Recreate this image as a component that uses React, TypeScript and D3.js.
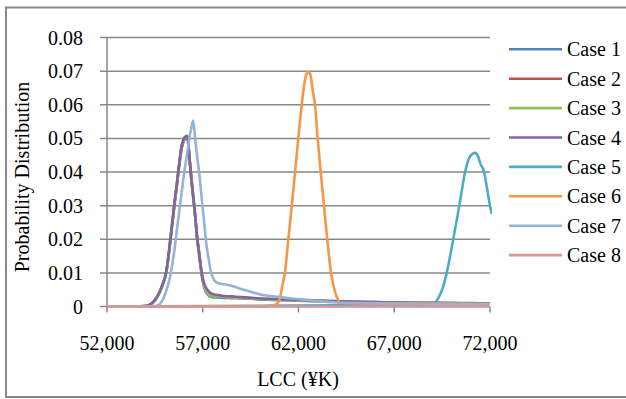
import React from "react";
import * as d3 from "d3";

// ---- data ----
const xMain = [
  52000, 53500, 54000, 54300, 54600, 54900, 55100, 55300, 55500, 55700, 55900,
  56100, 56200, 56300, 56400, 56500, 56600, 56700, 56800, 56900, 57000, 57100,
  57200, 57300, 57400, 57600, 57800, 58000, 58500, 59000, 59500, 60000, 61000,
  62000, 63000, 64000, 65000, 66000, 67000, 68000, 69000, 70000, 71000, 72000,
];
const case1 = [
  0, 0, 0.0001, 0.0006, 0.0025, 0.0062, 0.0102, 0.019, 0.029, 0.0385, 0.047,
  0.05, 0.0502, 0.0445, 0.038, 0.0325, 0.027, 0.0205, 0.016, 0.0112, 0.0075, 0.0052,
  0.004, 0.0033, 0.0029, 0.0027, 0.0027, 0.0026, 0.0025, 0.0024, 0.0023, 0.0021, 0.0019,
  0.0017, 0.0015, 0.0014, 0.0013, 0.0012, 0.0011, 0.001, 0.001, 0.0009, 0.0009, 0.0008,
];
const case2 = [
  0, 0, 0.0001, 0.0007, 0.0027, 0.0064, 0.0105, 0.0195, 0.0295, 0.039, 0.048,
  0.0505, 0.0503, 0.0448, 0.0384, 0.0328, 0.0272, 0.0208, 0.0163, 0.0116, 0.008, 0.0058,
  0.0046, 0.0039, 0.0035, 0.0032, 0.0031, 0.003, 0.0028, 0.0026, 0.0025, 0.0023, 0.0021,
  0.0019, 0.0017, 0.0015, 0.0014, 0.0013, 0.0012, 0.0011, 0.001, 0.001, 0.0009, 0.0009,
];
const case3 = [
  0, 0, 0.0001, 0.0006, 0.0026, 0.0063, 0.0103, 0.0192, 0.0292, 0.0387, 0.0472,
  0.0502, 0.0504, 0.0447, 0.0382, 0.0327, 0.0272, 0.0207, 0.0162, 0.0115, 0.0078, 0.0056,
  0.0044, 0.0036, 0.0032, 0.003, 0.003, 0.0029, 0.0027, 0.0025, 0.0024, 0.0022, 0.002,
  0.0018, 0.0016, 0.0015, 0.0013, 0.0012, 0.0011, 0.0011, 0.001, 0.001, 0.0009, 0.0008,
];
const case4 = [
  0, 0, 0.0001, 0.0008, 0.0028, 0.0066, 0.0106, 0.0196, 0.0296, 0.039, 0.0475,
  0.0505, 0.0508, 0.0445, 0.0385, 0.033, 0.0275, 0.021, 0.0165, 0.012, 0.0085, 0.0065,
  0.0053, 0.0046, 0.004, 0.0036, 0.0034, 0.0032, 0.003, 0.0028, 0.0026, 0.0024, 0.0022,
  0.002, 0.0018, 0.0016, 0.0014, 0.0013, 0.0012, 0.0011, 0.0011, 0.001, 0.001, 0.0009,
];
const case7 = [
  0, 0, 0, 0, 0.0002, 0.0018, 0.0048, 0.009, 0.016, 0.025, 0.034,
  0.0425, 0.046, 0.05, 0.053, 0.0553, 0.05, 0.045, 0.0405, 0.035, 0.029, 0.0235,
  0.018, 0.0145, 0.011, 0.0078, 0.0069, 0.0067, 0.0062, 0.0052, 0.0044, 0.0036, 0.0028,
  0.0022, 0.0016, 0.0012, 0.001, 0.0009, 0.0008, 0.0008, 0.0007, 0.0007, 0.0007, 0.0006,
];
const case8 = xMain.map(() => 0);

const xCase6 = [
  52000, 60000, 60600, 60900, 61050, 61150, 61300, 61470, 61650, 61820, 61990,
  62170, 62300, 62420, 62530, 62620, 62750, 62870, 63000, 63160, 63330, 63500,
  63700, 63900, 64080, 64200, 65000, 68000, 72000,
];
const case6 = [
  0, 0, 0.0002, 0.001, 0.003, 0.006, 0.0105, 0.02, 0.03, 0.04, 0.05,
  0.06, 0.066, 0.0692, 0.0697, 0.069, 0.064, 0.0595, 0.05, 0.04, 0.03, 0.02,
  0.01, 0.0045, 0.0018, 0.0011, 0.001, 0.0009, 0.0008,
];

const xCase5 = [
  52000, 68500, 69100, 69300, 69500, 69740, 70080, 70400, 70700, 70900, 71100,
  71220, 71350, 71500, 71690, 71850, 72000, 72100,
];
const case5 = [
  0, 0.0005, 0.001, 0.0025, 0.005, 0.01, 0.02, 0.03, 0.04, 0.044, 0.0455,
  0.0457, 0.045, 0.0425, 0.04, 0.035, 0.03, 0.0275,
];

const caseNames = ["Case 1", "Case 2", "Case 3", "Case 4", "Case 5", "Case 6", "Case 7", "Case 8"];
const caseColors = ["#4F81BD", "#C0504D", "#9BBB59", "#8064A2", "#4BACC6", "#F79646", "#95B3D7", "#D99694"];
const xTicks = [52000, 57000, 62000, 67000, 72000];
const yTicks = [0, 0.01, 0.02, 0.03, 0.04, 0.05, 0.06, 0.07, 0.08];

const series: { xs: number[]; ys: number[] }[] = [
  { xs: xMain, ys: case1 },
  { xs: xMain, ys: case2 },
  { xs: xMain, ys: case3 },
  { xs: xMain, ys: case4 },
  { xs: xCase5, ys: case5 },
  { xs: xCase6, ys: case6 },
  { xs: xMain, ys: case7 },
  { xs: xMain, ys: case8 },
];

export default function App() {
  React.useEffect(() => {
    document.body.style.margin = "0";
  }, []);

  const W = 626;
  const H = 399;
  const left = 107;
  const right = 490;
  const top = 37.5;
  const bottom = 306.5;

  const x = d3.scaleLinear().domain([52000, 72000]).range([left, right]);
  const y = d3.scaleLinear().domain([0, 0.08]).range([bottom, top]);
  const line = d3
    .line<[number, number]>()
    .x((d) => x(d[0]))
    .y((d) => y(d[1]))
    .curve(d3.curveMonotoneX);

  const font = "'Liberation Serif', 'Times New Roman', serif";
  const grid = "#878787";

  return (
    <svg
      width={W}
      height={H}
      style={{ position: "absolute", left: 0, top: 0, background: "#fff" }}
      fontFamily={font}
    >
      <rect x={0} y={0} width={W} height={H} fill="#fff" />
      <rect x={6} y={7.5} width={660} height={389.5} fill="none" stroke="#898989" strokeWidth={2} />
      <defs>
        <clipPath id="plotClip">
          <rect x={left} y={top - 5} width={right - left + 2} height={bottom - top + 10} />
        </clipPath>
      </defs>
      {/* gridlines */}
      {yTicks.map((t) => (
        <line
          key={"g" + t}
          x1={left - 7}
          x2={right}
          y1={y(t)}
          y2={y(t)}
          stroke={grid}
          strokeWidth={1.5}
        />
      ))}
      {/* y axis */}
      <line x1={left} x2={left} y1={top} y2={bottom} stroke={grid} strokeWidth={1.5} />
      {/* x ticks */}
      {xTicks.map((t) => (
        <line key={"xt" + t} x1={x(t)} x2={x(t)} y1={bottom} y2={bottom + 6} stroke={grid} strokeWidth={1.5} />
      ))}
      {/* y tick labels */}
      {yTicks.map((t) => (
        <text
          key={"yl" + t}
          x={83}
          y={y(t)}
          dy="0.35em"
          textAnchor="end"
          fontSize={20}
          fill="#000"
        >
          {t === 0 ? "0" : d3.format(".2f")(t)}
        </text>
      ))}
      {/* x tick labels */}
      {xTicks.map((t) => (
        <text key={"xl" + t} x={x(t)} y={350} textAnchor="middle" fontSize={20} fill="#000">
          {d3.format(",")(t)}
        </text>
      ))}
      {/* axis titles */}
      <text x={298} y={386} textAnchor="middle" fontSize={20} fill="#000">
        LCC (¥K)
      </text>
      <text
        transform={`translate(28.5, 177) rotate(-90)`}
        textAnchor="middle"
        fontSize={20}
        fill="#000"
      >
        Probability Distribution
      </text>
      {/* series */}
      <g clipPath="url(#plotClip)">
        {series.map((s, i) => (
          <path
            key={"s" + i}
            d={line(s.xs.map((v, j) => [v, s.ys[j]] as [number, number])) || ""}
            fill="none"
            stroke={caseColors[i]}
            strokeWidth={2.6}
            strokeLinejoin="round"
          />
        ))}
      </g>
      {/* legend */}
      {caseNames.map((n, i) => {
        const ly = 49.3 + i * 29.4;
        return (
          <g key={"lg" + i}>
            <line x1={509} x2={562} y1={ly} y2={ly} stroke={caseColors[i]} strokeWidth={2.6} />
            <text x={567} y={ly} dy="0.35em" fontSize={20} fill="#000">
              {n}
            </text>
          </g>
        );
      })}
    </svg>
  );
}
